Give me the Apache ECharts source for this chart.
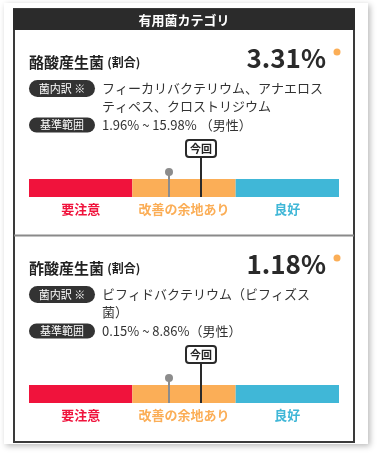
<!DOCTYPE html>
<html>
<head>
<meta charset="utf-8">
<script src="https://cdn.jsdelivr.net/npm/echarts@6/dist/echarts.min.js"></script>
<style>
html,body{margin:0;padding:0;background:#fff;}
#c{width:378px;height:453px;}
</style>
</head>
<body>
<div id="c"></div>
<script>
// ---- data ----
const headerTitle = '有用菌カテゴリ';
const categories = ['要注意', '改善の余地あり', '良好'];
const segmentSpans = [1, 1, 1];
const categoryColors = ['#f0133c', '#fbae57', '#40b7d7'];
const bacteriaNames = ['酪酸産生菌', '酢酸産生菌'];
const currentValues = ['3.31%', '1.18%'];
const breakdownLines = [
  ['フィーカリバクテリウム、アナエロス', 'ティペス、クロストリジウム'],
  ['ビフィドバクテリウム（ビフィズス', '菌）']
];
const rangeTexts = ['1.96% ~ 15.98% （男性）', '0.15% ~ 8.86%（男性）'];
const previousPositions = [1.35, 1.35];   // position on 3-segment scale
const currentPositions = [1.66, 1.66];
const currentLabel = '今回';

// ---- layout ----
const FONT = '"Noto Sans CJK JP", "Noto Sans", sans-serif';
const sectionOffsets = [0, 206];
const chart = echarts.init(document.getElementById('c'), null, {renderer: 'canvas'});

const graphics = [
  {type: 'rect', shape: {x: 4, y: 3, width: 364, height: 441}, style: {fill: '#fff', shadowBlur: 6, shadowColor: 'rgba(0,0,0,0.28)', shadowOffsetX: 2, shadowOffsetY: 2}, z: 0},
  {type: 'rect', shape: {x: 14, y: 9, width: 340, height: 433}, style: {fill: '#fff', stroke: '#3a3a3a', lineWidth: 2}, z: 1},
  {type: 'rect', shape: {x: 13, y: 9, width: 342, height: 21}, style: {fill: '#2b2b2b'}, z: 2},
  {type: 'text', x: 184, y: 20, style: {text: headerTitle, fill: '#fff', font: 'bold 13px ' + FONT, align: 'center', verticalAlign: 'middle'}, z: 3},
  {type: 'line', shape: {x1: 14, y1: 235.5, x2: 354, y2: 235.5}, style: {stroke: '#8a8a8a', lineWidth: 2}, z: 2}
];

bacteriaNames.forEach(function (name, i) {
  const o = sectionOffsets[i];
  graphics.push(
    {type: 'text', x: 29, y: 62 + o, z: 3, style: {
      text: '{a|' + name + '} {b|(割合)}', align: 'left', verticalAlign: 'middle',
      rich: {a: {font: 'bold 15px ' + FONT, fill: '#222'}, b: {font: 'bold 12px ' + FONT, fill: '#222'}}
    }},
    {type: 'text', x: 326, y: 58 + o, z: 3, style: {text: currentValues[i], font: 'bold 26px ' + FONT, fill: '#2a2a2a', align: 'right', verticalAlign: 'middle'}},
    {type: 'circle', shape: {cx: 337, cy: 52 + o, r: 3.5}, style: {fill: '#fbae57'}, z: 3},
    {type: 'rect', shape: {x: 29, y: 80 + o, width: 66, height: 17, r: 8.5}, style: {fill: '#333'}, z: 3},
    {type: 'text', x: 62, y: 88.5 + o, z: 4, style: {text: '菌内訳 ※', font: '11px ' + FONT, fill: '#fff', align: 'center', verticalAlign: 'middle'}},
    {type: 'text', x: 102, y: 88.5 + o, z: 3, style: {text: breakdownLines[i][0], font: '13px ' + FONT, fill: '#333', align: 'left', verticalAlign: 'middle'}},
    {type: 'text', x: 102, y: 106 + o, z: 3, style: {text: breakdownLines[i][1], font: '13px ' + FONT, fill: '#333', align: 'left', verticalAlign: 'middle'}},
    {type: 'rect', shape: {x: 29, y: 117.5 + o, width: 66, height: 15, r: 7.5}, style: {fill: '#333'}, z: 3},
    {type: 'text', x: 62, y: 125 + o, z: 4, style: {text: '基準範囲', font: '11px ' + FONT, fill: '#fff', align: 'center', verticalAlign: 'middle'}},
    {type: 'text', x: 102, y: 125.5 + o, z: 3, style: {text: rangeTexts[i], font: '13px ' + FONT, fill: '#333', align: 'left', verticalAlign: 'middle'}}
  );
});

const grids = [], xAxes = [], yAxes = [], series = [];
bacteriaNames.forEach(function (name, i) {
  const o = sectionOffsets[i];
  grids.push({left: 29, width: 310, top: 179 + o, height: 18});
  xAxes.push({type: 'value', gridIndex: i, min: 0, max: 3, show: false});
  yAxes.push({type: 'category', gridIndex: i, data: [name], show: false});
  categories.forEach(function (cat, k) {
    series.push({
      type: 'bar', name: cat, xAxisIndex: i, yAxisIndex: i, stack: 's' + i,
      barWidth: 18, data: [segmentSpans[k]], silent: true,
      itemStyle: {color: categoryColors[k]},
      label: {show: true, position: 'bottom', distance: 6, formatter: '{a}', color: categoryColors[k], fontSize: 13, fontWeight: 'bold', fontFamily: FONT},
      z: 2
    });
  });
  series.push({
    type: 'custom', xAxisIndex: i, yAxisIndex: i, z: 5, silent: true, clip: false,
    data: [[previousPositions[i], 0, 0], [currentPositions[i], 0, 1]],
    renderItem: function (params, api) {
      const c = api.coord([api.value(0), api.value(1)]);
      const x = Math.round(c[0]);
      const top = c[1] - 9;
      const bottom = c[1] + 9;
      if (api.value(2) === 0) {
        return {type: 'group', children: [
          {type: 'line', shape: {x1: x, y1: top - 7, x2: x, y2: bottom}, style: {stroke: '#8c8c8c', lineWidth: 2}},
          {type: 'circle', shape: {cx: x, cy: top - 7, r: 4}, style: {fill: '#8c8c8c'}}
        ]};
      }
      return {type: 'group', children: [
        {type: 'line', shape: {x1: x, y1: top - 22, x2: x, y2: bottom}, style: {stroke: '#2a2a2a', lineWidth: 2}},
        {type: 'rect', shape: {x: x - 15, y: top - 39, width: 30, height: 17, r: 3}, style: {fill: '#fff', stroke: '#2a2a2a', lineWidth: 2}},
        {type: 'text', x: x, y: top - 30.5, style: {text: currentLabel, font: 'bold 11px ' + FONT, fill: '#222', align: 'center', verticalAlign: 'middle'}}
      ]};
    }
  });
});

chart.setOption({
  animation: false,
  backgroundColor: '#fff',
  grid: grids, xAxis: xAxes, yAxis: yAxes, series: series,
  graphic: {elements: graphics}
});
</script>
</body>
</html>
